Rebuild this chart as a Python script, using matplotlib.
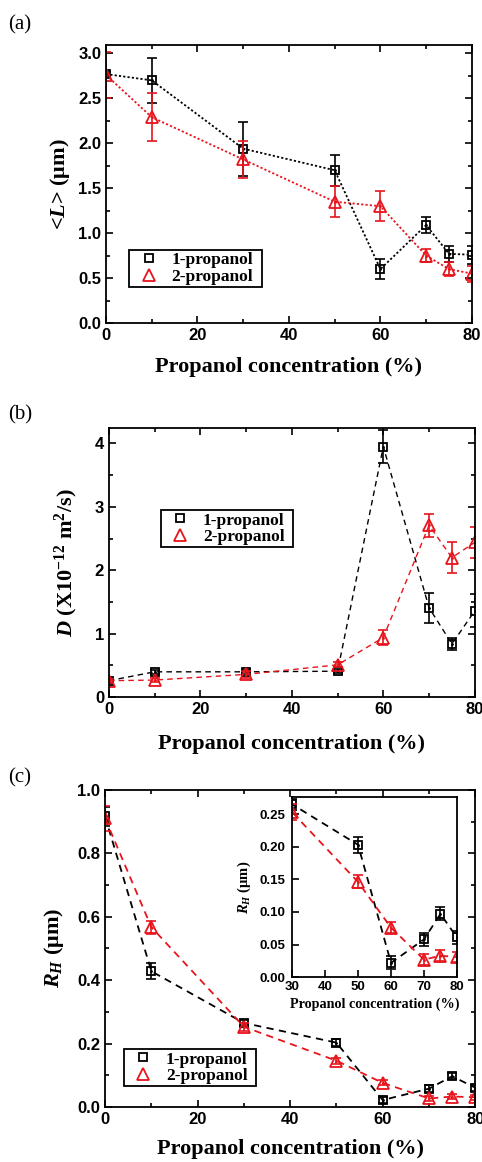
import matplotlib
matplotlib.use('Agg')
import matplotlib.pyplot as plt
from matplotlib.ticker import MultipleLocator

plt.rcParams['font.family'] = ['Liberation Sans', 'DejaVu Sans']
plt.rcParams['font.weight'] = 'bold'
plt.rcParams['mathtext.fontset'] = 'custom'
plt.rcParams['mathtext.rm'] = 'Liberation Serif:bold'
plt.rcParams['mathtext.bf'] = 'Liberation Serif:bold'
plt.rcParams['mathtext.it'] = 'Liberation Serif:italic:bold'

# propanol concentration (%)
conc = [0, 10, 30, 50, 60, 70, 75, 80]

# (a) mean length <L> (um)
L_1prop = [2.77, 2.70, 1.94, 1.70, 0.60, 1.09, 0.77, 0.76]
L_1prop_err = [0.02, 0.25, 0.30, 0.17, 0.11, 0.09, 0.09, 0.10]
L_2prop = [2.76, 2.29, 1.82, 1.35, 1.30, 0.75, 0.60, 0.55]
L_2prop_err = [0.26, 0.27, 0.21, 0.17, 0.17, 0.07, 0.08, 0.09]

# (b) diffusion coefficient D (x1e-12 m^2/s)
D_1prop = [0.26, 0.40, 0.40, 0.41, 3.95, 1.41, 0.84, 1.36]
D_1prop_err = [0.03, 0.03, 0.03, 0.03, 0.26, 0.24, 0.09, 0.26]
D_2prop = [0.26, 0.27, 0.36, 0.51, 0.94, 2.71, 2.20, 2.44]
D_2prop_err = [0.03, 0.03, 0.05, 0.04, 0.12, 0.18, 0.24, 0.25]

# (c) hydrodynamic radius R_H (um)
R_1prop = [0.916, 0.428, 0.265, 0.203, 0.022, 0.058, 0.097, 0.061]
R_1prop_err = [0.03, 0.025, 0.008, 0.012, 0.010, 0.010, 0.010, 0.010]
R_2prop = [0.910, 0.567, 0.253, 0.146, 0.076, 0.027, 0.033, 0.031]
R_2prop_err = [0.04, 0.020, 0.012, 0.010, 0.008, 0.008, 0.008, 0.008]

series_names = ['1-propanol', '2-propanol']

RED = '#e8141c'


def style_axes(ax, xmaj, xmin, ymaj, ymin, size=12):
    for sp in ax.spines.values():
        sp.set_linewidth(1.3)
    ax.xaxis.set_major_locator(MultipleLocator(xmaj))
    ax.xaxis.set_minor_locator(MultipleLocator(xmin))
    ax.yaxis.set_major_locator(MultipleLocator(ymaj))
    ax.yaxis.set_minor_locator(MultipleLocator(ymin))
    ax.tick_params(which='both', direction='in', top=True, right=True, width=1.2,
                   labelsize=size)
    ax.tick_params(which='major', length=5)
    ax.tick_params(which='minor', length=3)


def draw_series(ax, y, yerr, color, marker, ms, dashes, lw, label):
    ax.errorbar(conc, y, yerr=yerr, fmt='none', ecolor=color, elinewidth=1.2,
                capsize=3.5, capthick=1.2)
    ax.plot(conc, y, color=color, lw=lw, dashes=dashes)
    ax.plot(conc, y, ls='none', marker=marker, ms=ms, mfc='none', mec=color,
            mew=1.3, label=label)
    ax.plot(conc, y, ls='none', marker='.', ms=2, color=color)


def add_legend(ax, x0, y0, w):
    # expand mode stretches the box to width w (axes fraction)
    ax.legend(loc='lower left', bbox_to_anchor=(x0, y0, w, 0.1), mode='expand',
              frameon=True, fancybox=False,
              edgecolor='black', framealpha=1, handlelength=2.0, handletextpad=0.3,
              borderpad=0.12, labelspacing=0.02, borderaxespad=0,
              prop={'family': 'Liberation Serif', 'weight': 'bold', 'size': 12.5}
              ).get_frame().set_linewidth(1.3)


serif_lbl = {'family': 'Liberation Serif', 'weight': 'bold', 'size': 16}

fig = plt.figure(figsize=(4.82, 11.62), dpi=100)

# ---- (a)
ax1 = fig.add_axes([0.220, 0.722, 0.759, 0.239])
draw_series(ax1, L_1prop, L_1prop_err, 'black', 's', 6.3, (1.2, 1.2), 1.3, series_names[0])
draw_series(ax1, L_2prop, L_2prop_err, RED, '^', 9, (1.2, 1.2), 1.3, series_names[1])
ax1.set_xlim(0, 80)
ax1.set_ylim(0, 3.09)
style_axes(ax1, 20, 10, 0.5, 0.25)
ax1.set_xlabel('Propanol concentration (%)', fontdict=serif_lbl)
ax1.set_ylabel(r'<$L$> (μm)', fontdict=serif_lbl)
ax1.xaxis.set_label_coords(0.5, -0.122)
ax1.yaxis.set_label_coords(-0.093, 0.5)
add_legend(ax1, 0.063, 0.13, 0.363)

# ---- (b)
ax2 = fig.add_axes([0.226, 0.400, 0.759, 0.2315])
draw_series(ax2, D_1prop, D_1prop_err, 'black', 's', 6.3, (4, 3), 1.0, series_names[0])
draw_series(ax2, D_2prop, D_2prop_err, RED, '^', 9, (4, 3), 1.0, series_names[1])
ax2.set_xlim(0, 80)
ax2.set_ylim(0, 4.24)
style_axes(ax2, 20, 10, 1, 0.5)
ax2.set_xlabel('Propanol concentration (%)', fontdict=serif_lbl)
ax2.set_ylabel(r'$D$ (X10$^{-12}$ m$^2$/s)', fontdict=serif_lbl)
ax2.xaxis.set_label_coords(0.5, -0.138)
ax2.yaxis.set_label_coords(-0.079, 0.5)
add_legend(ax2, 0.142, 0.558, 0.361)

# ---- (c)
ax3 = fig.add_axes([0.218, 0.0473, 0.768, 0.273])
draw_series(ax3, R_1prop, R_1prop_err, 'black', 's', 6.3, (4, 3), 1.3, series_names[0])
draw_series(ax3, R_2prop, R_2prop_err, RED, '^', 9, (4, 3), 1.3, series_names[1])
ax3.set_xlim(0, 80)
ax3.set_ylim(0, 1.0)
style_axes(ax3, 20, 10, 0.2, 0.1)
ax3.set_xlabel('Propanol concentration (%)', fontdict=serif_lbl)
ax3.set_ylabel(r'$R_H$ (μm)', fontdict=serif_lbl)
ax3.xaxis.set_label_coords(0.5, -0.101)
ax3.yaxis.set_label_coords(-0.105, 0.5)
add_legend(ax3, 0.051, 0.066, 0.357)

# inset of (c)
axi = fig.add_axes([0.606, 0.159, 0.342, 0.155])
draw_series(axi, R_1prop, R_1prop_err, 'black', 's', 6.3, (4, 3), 1.3, series_names[0])
draw_series(axi, R_2prop, R_2prop_err, RED, '^', 9, (4, 3), 1.3, series_names[1])
axi.set_xlim(30, 80)
axi.set_ylim(0, 0.276)
style_axes(axi, 10, 5, 0.05, 0.025, size=9.5)
axi.tick_params(which='both', top=False, right=False)
axi.tick_params(which='minor', bottom=False, left=False)
axi.tick_params(axis='x', which='major', pad=3)
axi.tick_params(axis='y', which='major', pad=5)
axi.set_xlabel('Propanol concentration (%)',
               fontdict={'family': 'Liberation Serif', 'weight': 'bold', 'size': 10.2})
axi.set_ylabel(r'$R_H$ (μm)',
               fontdict={'family': 'Liberation Serif', 'weight': 'bold', 'size': 10.5})
axi.xaxis.set_label_coords(0.5, -0.11)
axi.yaxis.set_label_coords(-0.236, 0.5)

# panel letters
for lbl, ypx in [('(a)', 25), ('(b)', 415), ('(c)', 778)]:
    fig.text(8 / 482, 1 - ypx / 1162, lbl, family='Liberation Serif', weight='normal',
             size=15, va='center', ha='left')

fig.savefig('out.png', dpi=100)
